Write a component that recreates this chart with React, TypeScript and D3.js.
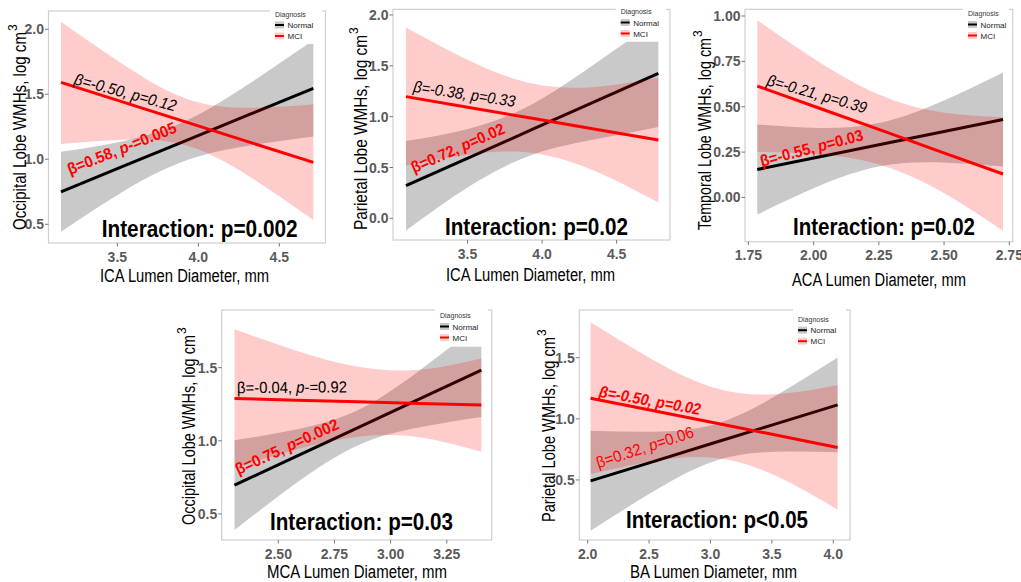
import React from 'react';
import * as d3 from 'd3';

const FONT = '"Liberation Sans", Arial, Helvetica, sans-serif';
const W = 1021;
const H = 582;

// ---- Occipital lobe WMHs vs ICA lumen diameter ----
const occIcaX = [3.152, 3.541, 3.931, 4.32, 4.71];
const occIcaNormalFit = [0.75, 0.949, 1.148, 1.347, 1.546];
const occIcaNormalLo = [0.443, 0.757, 0.995, 1.107, 1.176];
const occIcaNormalHi = [1.058, 1.141, 1.301, 1.587, 1.916];
const occIcaMciFit = [1.592, 1.438, 1.284, 1.13, 0.976];
const occIcaMciLo = [1.118, 1.151, 1.104, 0.864, 0.533];
const occIcaMciHi = [2.058, 1.725, 1.464, 1.396, 1.423];
const occIcaXTicks = [3.5, 4.0, 4.5];
const occIcaYTicks = [0.5, 1.0, 1.5, 2.0];

// ---- Parietal lobe WMHs vs ICA lumen diameter ----
const parIcaX = [3.087, 3.51, 3.934, 4.357, 4.78];
const parIcaNormalFit = [0.321, 0.597, 0.874, 1.15, 1.426];
const parIcaNormalLo = [-0.119, 0.314, 0.625, 0.777, 0.899];
const parIcaNormalHi = [0.761, 0.881, 1.123, 1.523, 1.953];
const parIcaMciFit = [1.197, 1.09, 0.984, 0.877, 0.77];
const parIcaMciLo = [0.517, 0.628, 0.642, 0.462, 0.155];
const parIcaMciHi = [1.877, 1.553, 1.326, 1.292, 1.385];
const parIcaXTicks = [3.5, 4.0, 4.5];
const parIcaYTicks = [0.0, 0.5, 1.0, 1.5, 2.0];

// ---- Temporal lobe WMHs vs ACA lumen diameter ----
const tmpAcaX = [1.784, 2.0195, 2.255, 2.4905, 2.726];
const tmpAcaNormalFit = [0.154, 0.223, 0.292, 0.361, 0.43];
const tmpAcaNormalLo = [-0.094, 0.063, 0.172, 0.193, 0.171];
const tmpAcaNormalHi = [0.402, 0.383, 0.412, 0.529, 0.689];
const tmpAcaMciFit = [0.614, 0.493, 0.372, 0.25, 0.129];
const tmpAcaMciLo = [0.251, 0.238, 0.18, 0.031, -0.184];
const tmpAcaMciHi = [0.977, 0.748, 0.564, 0.469, 0.442];
const tmpAcaXTicks = [1.75, 2.0, 2.25, 2.5, 2.75];
const tmpAcaYTicks = [0.0, 0.25, 0.5, 0.75, 1.0];

// ---- Occipital lobe WMHs vs MCA lumen diameter ----
const occMcaX = [2.305, 2.58, 2.855, 3.129, 3.404];
const occMcaNormalFit = [0.697, 0.894, 1.09, 1.287, 1.483];
const occMcaNormalLo = [0.39, 0.711, 0.97, 1.093, 1.163];
const occMcaNormalHi = [1.004, 1.077, 1.21, 1.481, 1.803];
const occMcaMciFit = [1.289, 1.278, 1.267, 1.255, 1.244];
const occMcaMciLo = [0.816, 0.94, 1.028, 1.025, 0.925];
const occMcaMciHi = [1.762, 1.616, 1.506, 1.486, 1.563];
const occMcaXTicks = [2.5, 2.75, 3.0, 3.25];
const occMcaYTicks = [0.5, 1.0, 1.5];

// ---- Parietal lobe WMHs vs BA lumen diameter ----
const parBaX = [2.024, 2.527, 3.03, 3.532, 4.035];
const parBaNormalFit = [0.493, 0.648, 0.804, 0.959, 1.114];
const parBaNormalLo = [0.084, 0.401, 0.654, 0.731, 0.727];
const parBaNormalHi = [0.902, 0.895, 0.954, 1.188, 1.501];
const parBaMciFit = [1.169, 1.068, 0.968, 0.867, 0.766];
const parBaMciLo = [0.549, 0.652, 0.681, 0.534, 0.256];
const parBaMciHi = [1.789, 1.485, 1.255, 1.201, 1.276];
const parBaXTicks = [2.0, 2.5, 3.0, 3.5, 4.0];
const parBaYTicks = [0.5, 1.0, 1.5];

const legendTitle = 'Diagnosis';
const groupNames = ['Normal', 'MCI'];

const GRAY_FILL = '#c9c9c9';
const PINK_FILL = 'rgba(255,0,0,0.2)';
const RED = '#ff0000';

type Seg = { t: string; it?: boolean };
type Label = {
  segs: Seg[];
  x: number;
  y: number;
  angle: number;
  len: number;
  color: string;
  bold?: boolean;
  italic?: boolean;
};
type Series = { xs: number[]; fit: number[]; lo: number[]; hi: number[] };
type PanelCfg = {
  box: { left: number; top: number; right: number; bottom: number };
  xDomain: [number, number];
  yDomain: [number, number];
  normal: Series;
  mci: Series;
  xTicks: number[];
  yTicks: number[];
  xFmt: string;
  yFmt: string;
  xTitle: { text: string; x: number; y: number; len: number };
  yTitle: { text: string; x: number; y: number; len: number };
  interaction: { text: string; x: number; y: number; len: number };
  legend: { keyX: number; base: number; right: number; bottom: number };
  labels: Label[];
};

const panels: PanelCfg[] = [
  {
    box: { left: 48.5, top: 11, right: 325.5, bottom: 243 },
    xDomain: [3.075, 4.785],
    yDomain: [0.356, 2.141],
    normal: { xs: occIcaX, fit: occIcaNormalFit, lo: occIcaNormalLo, hi: occIcaNormalHi },
    mci: { xs: occIcaX, fit: occIcaMciFit, lo: occIcaMciLo, hi: occIcaMciHi },
    xTicks: occIcaXTicks,
    yTicks: occIcaYTicks,
    xFmt: '.1f',
    yFmt: '.1f',
    xTitle: { text: 'ICA Lumen Diameter, mm', x: 100, y: 282, len: 169 },
    yTitle: { text: 'Occipital Lobe WMHs, log cm', x: 26, y: 230, len: 198 },
    interaction: { text: 'Interaction: p=0.002', x: 101.7, y: 237, len: 196 },
    legend: { keyX: 275, base: 16.5, right: 322, bottom: 44 },
    labels: [
      { segs: [{ t: 'β=-0.50, p=0.12' }], x: 73.3, y: 84, angle: 15.2, len: 105, color: '#000', italic: true },
      { segs: [{ t: 'β=0.58, ' }, { t: 'p', it: true }, { t: '-=0.005' }], x: 70, y: 175, angle: -21.8, len: 116, color: RED, bold: true },
    ],
  },
  {
    box: { left: 393, top: 9.3, right: 670, bottom: 240 },
    xDomain: [3.0, 4.858],
    yDomain: [-0.213, 2.056],
    normal: { xs: parIcaX, fit: parIcaNormalFit, lo: parIcaNormalLo, hi: parIcaNormalHi },
    mci: { xs: parIcaX, fit: parIcaMciFit, lo: parIcaMciLo, hi: parIcaMciHi },
    xTicks: parIcaXTicks,
    yTicks: parIcaYTicks,
    xFmt: '.1f',
    yFmt: '.1f',
    xTitle: { text: 'ICA Lumen Diameter, mm', x: 446, y: 281, len: 169 },
    yTitle: { text: 'Parietal Lobe WMHs, log cm', x: 367, y: 230, len: 195 },
    interaction: { text: 'Interaction: p=0.02', x: 445, y: 235, len: 183 },
    legend: { keyX: 620.7, base: 14, right: 666, bottom: 41.7 },
    labels: [
      { segs: [{ t: 'β=-0.38, p=0.33' }], x: 412.7, y: 91.7, angle: 8.5, len: 103, color: '#000', italic: true },
      { segs: [{ t: 'β=0.72, ' }, { t: 'p', it: true }, { t: '=0.02' }], x: 414, y: 173.3, angle: -23.8, len: 100.6, color: RED, bold: true },
    ],
  },
  {
    box: { left: 745, top: 9.3, right: 1012.7, bottom: 241.7 },
    xDomain: [1.737, 2.763],
    yDomain: [-0.244, 1.037],
    normal: { xs: tmpAcaX, fit: tmpAcaNormalFit, lo: tmpAcaNormalLo, hi: tmpAcaNormalHi },
    mci: { xs: tmpAcaX, fit: tmpAcaMciFit, lo: tmpAcaMciLo, hi: tmpAcaMciHi },
    xTicks: tmpAcaXTicks,
    yTicks: tmpAcaYTicks,
    xFmt: '.2f',
    yFmt: '.2f',
    xTitle: { text: 'ACA Lumen Diameter, mm', x: 792, y: 286, len: 174 },
    yTitle: { text: 'Temporal Lobe WMHs, log cm', x: 711, y: 230, len: 192 },
    interaction: { text: 'Interaction: p=0.02', x: 793, y: 235, len: 182 },
    legend: { keyX: 968, base: 16, right: 1009, bottom: 44 },
    labels: [
      { segs: [{ t: 'β=-0.21, p=0.39' }], x: 766, y: 85, angle: 16, len: 103, color: '#000', italic: true },
      { segs: [{ t: 'β=-0.55, ' }, { t: 'p', it: true }, { t: '=0.03' }], x: 761.7, y: 166.7, angle: -14.6, len: 106, color: RED, bold: true },
    ],
  },
  {
    box: { left: 221.7, top: 310, right: 491.7, bottom: 540 },
    xDomain: [2.248, 3.45],
    yDomain: [0.322, 1.894],
    normal: { xs: occMcaX, fit: occMcaNormalFit, lo: occMcaNormalLo, hi: occMcaNormalHi },
    mci: { xs: occMcaX, fit: occMcaMciFit, lo: occMcaMciLo, hi: occMcaMciHi },
    xTicks: occMcaXTicks,
    yTicks: occMcaYTicks,
    xFmt: '.2f',
    yFmt: '.1f',
    xTitle: { text: 'MCA Lumen Diameter, mm', x: 267, y: 578, len: 180 },
    yTitle: { text: 'Occipital Lobe WMHs, log cm', x: 195, y: 525, len: 190 },
    interaction: { text: 'Interaction: p=0.03', x: 270, y: 530, len: 183 },
    legend: { keyX: 440, base: 318, right: 488, bottom: 346.7 },
    labels: [
      { segs: [{ t: 'β=-0.04, ' }, { t: 'p', it: true }, { t: '-=0.92' }], x: 237, y: 393.3, angle: -0.5, len: 110, color: '#000' },
      { segs: [{ t: 'β=0.75, ' }, { t: 'p', it: true }, { t: '=0.002' }], x: 238.3, y: 475, angle: -24.7, len: 112, color: RED, bold: true },
    ],
  },
  {
    box: { left: 579.3, top: 310, right: 850, bottom: 540 },
    xDomain: [1.932, 4.136],
    yDomain: [0.009, 1.89],
    normal: { xs: parBaX, fit: parBaNormalFit, lo: parBaNormalLo, hi: parBaNormalHi },
    mci: { xs: parBaX, fit: parBaMciFit, lo: parBaMciLo, hi: parBaMciHi },
    xTicks: parBaXTicks,
    yTicks: parBaYTicks,
    xFmt: '.1f',
    yFmt: '.1f',
    xTitle: { text: 'BA Lumen Diameter, mm', x: 630, y: 578, len: 167 },
    yTitle: { text: 'Parietal Lobe WMHs, log cm', x: 555, y: 522, len: 185 },
    interaction: { text: 'Interaction: p<0.05', x: 626, y: 528, len: 182 },
    legend: { keyX: 798, base: 321.7, right: 846, bottom: 350 },
    labels: [
      { segs: [{ t: 'β=-0.50, p=0.02' }], x: 598.3, y: 396.7, angle: 10.2, len: 103, color: RED, bold: true, italic: true },
      { segs: [{ t: 'β=0.32, ' }, { t: 'p', it: true }, { t: '=0.06' }], x: 598.3, y: 468.3, angle: -18.1, len: 101.7, color: RED },
    ],
  },
];

function Panel({ cfg }: { cfg: PanelCfg }) {
  const { box } = cfg;
  const x = d3.scaleLinear().domain(cfg.xDomain).range([box.left, box.right]);
  const y = d3.scaleLinear().domain(cfg.yDomain).range([box.bottom, box.top]);

  const band = (s: Series) =>
    d3
      .area<number>()
      .x((d) => x(d))
      .y0((_, i) => y(s.lo[i]))
      .y1((_, i) => y(s.hi[i]))
      .curve(d3.curveNatural)(s.xs) || '';
  const fit = (s: Series) =>
    d3
      .line<number>()
      .x((d) => x(d))
      .y((_, i) => y(s.fit[i]))(s.xs) || '';

  const xf = d3.format(cfg.xFmt);
  const yf = d3.format(cfg.yFmt);
  const lg = cfg.legend;

  return (
    <g>
      {/* panel frame */}
      <rect
        x={box.left}
        y={box.top}
        width={box.right - box.left}
        height={box.bottom - box.top}
        fill="none"
        stroke="#cfcfcf"
        strokeWidth={1.2}
      />
      {/* Normal ribbon + fit, then MCI ribbon + fit */}
      <path d={band(cfg.normal)} fill={GRAY_FILL} />
      <path d={fit(cfg.normal)} fill="none" stroke="#000" strokeWidth={3} />
      <path d={band(cfg.mci)} fill={PINK_FILL} />
      <path d={fit(cfg.mci)} fill="none" stroke={RED} strokeWidth={3} />

      {/* legend */}
      <rect x={lg.keyX - 5} y={box.top - 1.5} width={lg.right - lg.keyX + 5} height={lg.bottom - box.top + 1.5} fill="#fff" />
      <text x={lg.keyX} y={lg.base} fontFamily={FONT} fontSize={7} fill="#333">
        {legendTitle}
      </text>
      {groupNames.map((g, i) => {
        const ky = lg.base + 5 + i * 11;
        return (
          <g key={g}>
            <rect x={lg.keyX} y={ky} width={9} height={7} fill={i === 0 ? GRAY_FILL : '#ffcccc'} />
            <line x1={lg.keyX} x2={lg.keyX + 9} y1={ky + 3.5} y2={ky + 3.5} stroke={i === 0 ? '#000' : RED} strokeWidth={2} />
            <text x={lg.keyX + 12.5} y={ky + 6.5} fontFamily={FONT} fontSize={8} fill="#222">
              {g}
            </text>
          </g>
        );
      })}

      {/* slope annotations */}
      {cfg.labels.map((l, i) => (
        <text
          key={i}
          transform={`translate(${l.x},${l.y}) rotate(${l.angle})`}
          fontFamily={FONT}
          fontSize={16}
          fontWeight={l.bold ? 'bold' : 'normal'}
          fontStyle={l.italic ? 'italic' : 'normal'}
          fill={l.color}
          textLength={l.len}
          lengthAdjust="spacingAndGlyphs"
        >
          {l.segs.map((s, j) => (
            <tspan key={j} fontStyle={s.it || l.italic ? 'italic' : 'normal'}>
              {s.t}
            </tspan>
          ))}
        </text>
      ))}

      {/* interaction test */}
      <text
        x={cfg.interaction.x}
        y={cfg.interaction.y}
        fontFamily={FONT}
        fontSize={23}
        fontWeight="bold"
        fill="#000"
        textLength={cfg.interaction.len}
        lengthAdjust="spacingAndGlyphs"
      >
        {cfg.interaction.text}
      </text>

      {/* y axis */}
      {cfg.yTicks.map((t) => (
        <g key={'y' + t}>
          <line x1={box.left - 3.5} x2={box.left} y1={y(t)} y2={y(t)} stroke="#777" strokeWidth={1} />
          <text
            x={box.left - 4.5}
            y={y(t)}
            dy="0.36em"
            textAnchor="end"
            fontFamily={FONT}
            fontSize={14}
            fontWeight="bold"
            fill="#5a5a5a"
          >
            {yf(t)}
          </text>
        </g>
      ))}
      {/* x axis */}
      {cfg.xTicks.map((t) => (
        <g key={'x' + t}>
          <line x1={x(t)} x2={x(t)} y1={box.bottom} y2={box.bottom + 3.5} stroke="#777" strokeWidth={1} />
          <text
            x={x(t)}
            y={box.bottom + 18.5}
            textAnchor="middle"
            fontFamily={FONT}
            fontSize={14}
            fontWeight="bold"
            fill="#5a5a5a"
          >
            {xf(t)}
          </text>
        </g>
      ))}

      {/* axis titles */}
      <text
        x={cfg.xTitle.x}
        y={cfg.xTitle.y}
        fontFamily={FONT}
        fontSize={18}
        fill="#000"
        textLength={cfg.xTitle.len}
        lengthAdjust="spacingAndGlyphs"
      >
        {cfg.xTitle.text}
      </text>
      <g transform={`translate(${cfg.yTitle.x},${cfg.yTitle.y}) rotate(-90)`}>
        <text x={0} y={0} fontFamily={FONT} fontSize={18} fill="#000" textLength={cfg.yTitle.len} lengthAdjust="spacingAndGlyphs">
          {cfg.yTitle.text}
        </text>
        <text x={cfg.yTitle.len + 1} y={-9.5} fontFamily={FONT} fontSize={12} fill="#000">
          3
        </text>
      </g>
    </g>
  );
}

export default function App() {
  return (
    <svg
      width={W}
      height={H}
      viewBox={`0 0 ${W} ${H}`}
      style={{ position: 'absolute', left: 0, top: 0, background: '#fff' }}
    >
      <rect x={0} y={0} width={W} height={H} fill="#fff" />
      {panels.map((p, i) => (
        <Panel key={i} cfg={p} />
      ))}
    </svg>
  );
}
